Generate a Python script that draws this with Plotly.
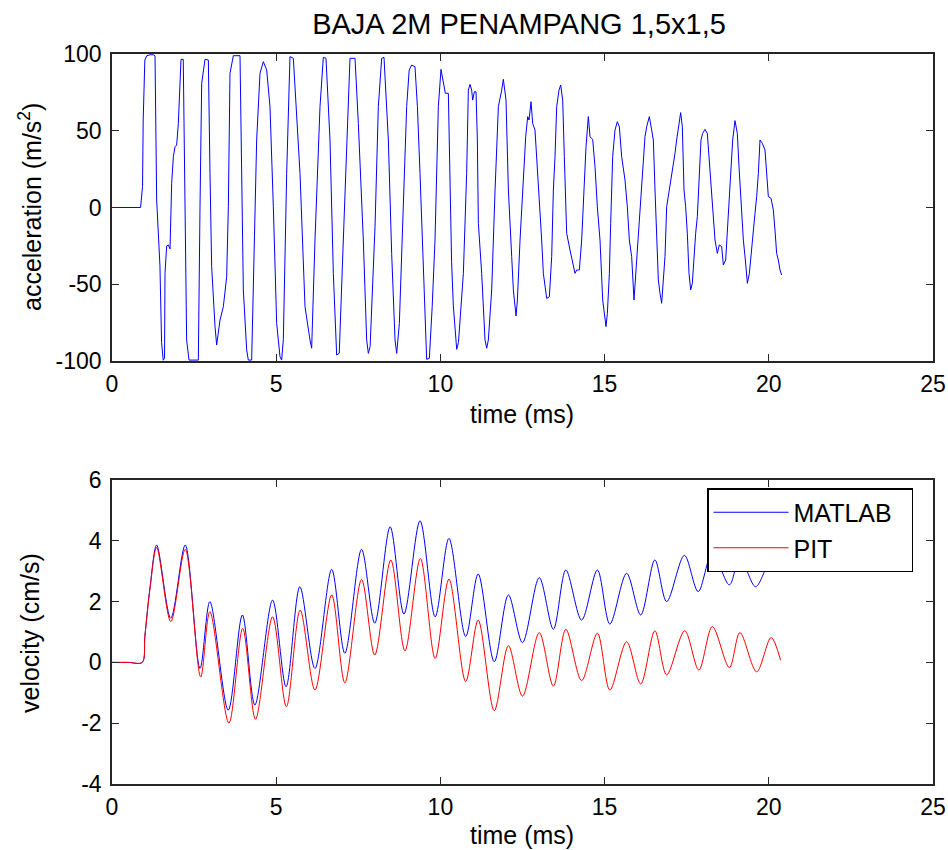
import plotly.graph_objects as go
from plotly.subplots import make_subplots

# Acceleration record (time in ms, acceleration in m/s^2)
acc_time = [
    0.0, 0.87, 0.93, 0.95, 1.00, 1.06, 1.16, 1.26, 1.31, 1.36, 1.46, 1.51, 1.56, 1.60,
    1.614, 1.665, 1.716, 1.767, 1.817, 1.868, 1.92, 1.969, 2.02, 2.071, 2.101, 2.17,
    2.223, 2.273, 2.345, 2.629, 2.680, 2.731, 2.832, 2.934, 2.984, 3.035, 3.137, 3.187,
    3.289, 3.39, 3.492, 3.543, 3.593, 3.695, 3.898, 3.999, 4.101, 4.151, 4.253, 4.354,
    4.405, 4.507, 4.608, 4.71, 4.811, 4.913, 5.014, 5.116, 5.166, 5.217, 5.319, 5.42,
    5.522, 5.725, 5.877, 6.029, 6.08, 6.181, 6.334, 6.435, 6.516, 6.638, 6.74, 6.841,
    6.92, 7.044, 7.146, 7.247, 7.4, 7.501, 7.653, 7.755, 7.806, 7.86, 8.009, 8.11,
    8.212, 8.283, 8.415, 8.516, 8.618, 8.669, 8.75, 8.872, 8.973, 9.05, 9.125, 9.227,
    9.30, 9.379, 9.481, 9.582, 9.663, 9.75, 9.836, 9.937, 10.018, 10.09, 10.15, 10.242,
    10.293, 10.34, 10.394, 10.496, 10.55, 10.648, 10.699, 10.8, 10.851, 10.902, 10.952,
    10.983, 11.034, 11.085, 11.125, 11.156, 11.257, 11.359, 11.41, 11.46, 11.562, 11.664,
    11.765, 11.867, 11.917, 11.998, 12.07, 12.171, 12.222, 12.303, 12.344, 12.425, 12.527,
    12.597, 12.658, 12.699, 12.76, 12.81, 12.881, 12.932, 13.034, 13.084, 13.135, 13.237,
    13.318, 13.389, 13.44, 13.49, 13.541, 13.612, 13.663, 13.724, 13.774, 13.845, 13.947,
    14.028, 14.099, 14.15, 14.231, 14.302, 14.373, 14.434, 14.505, 14.556, 14.637, 14.708,
    14.779, 14.86, 14.942, 14.992, 15.043, 15.084, 15.145, 15.185, 15.246, 15.317, 15.388,
    15.449, 15.52, 15.621, 15.692, 15.753, 15.824, 15.895, 15.946, 16.027, 16.098, 16.179,
    16.23, 16.281, 16.362, 16.433, 16.484, 16.535, 16.585, 16.636, 16.687, 16.738, 16.788,
    16.839, 16.89, 16.941, 16.991, 17.042, 17.093, 17.144, 17.194, 17.245, 17.316, 17.367,
    17.418, 17.468, 17.519, 17.57, 17.621, 17.671, 17.722, 17.773, 17.824, 17.885, 17.935,
    17.986, 18.057, 18.128, 18.179, 18.24, 18.291, 18.362, 18.433, 18.494, 18.565, 18.616,
    18.687, 18.738, 18.799, 18.849, 18.9, 18.971, 19.042, 19.093, 19.154, 19.225, 19.286,
    19.347, 19.408, 19.458, 19.529, 19.58, 19.631, 19.682, 19.732, 19.803, 19.884, 19.935,
    19.986, 20.067, 20.138, 20.188, 20.239, 20.29, 20.341, 20.391,
]
acc_value = [
    0.0, 0.0, 13.6, 57.0, 96.0, 98.9, 99.5, 99.5, 98.9, 4.9, -38.0, -88.0, -99.5, -98.0,
    -42.9, -25.0, -24.4, -27.0, 15.7, 33.1, 39.6, 40.7, 54.8, 89.6, 96.5, 96.5,
    0.5, -86.3, -99.4, -99.4, 0.5, 80.9, 96.5, 96.1, 22.3, -38.5, -77.6, -89.6,
    -73.3, -64.6, -45.1, 0.5, 87.4, 98.9, 98.9, -53.7, -92.8, -99.4, -99.4, 0.5,
    44.0, 87.4, 95.0, 89.6, 65.7, 0.5, -75.5, -97.2, -99.4, -86.0, 22.3, 98.3,
    97.2, 22.3, -64.6, -86.3, -91.7, -21.2, 65.7, 97.8, 97.2, 44.0, -42.9, -96.1,
    -95.0, -21.2, 44.0, 97.2, 97.2, 54.8, -21.2, -86.3, -95.0, -90.6, -12.5, 65.7,
    97.2, 97.8, 44.0, -29.9, -86.3, -95.0, -75.5, 0.5, 65.7, 89.6, 92.8, 91.7,
    65.7, 22.3, -42.9, -98.9, -98.3, -64.6, -21.2, 65.7, 90.0, 80.9, 74.4, 74.4,
    10.0, -35.0, -64.0, -92.4, -88.0, -60.3, -42.9, 22.3, 76.5, 80.2, 76.5,
    70.0, 75.4, 75.4, 44.0, -10.3, -42.9, -86.3, -91.7, -86.3, -53.7, 11.4,
    65.7, 76.5, 83.5, 70.0, 11.4, -32.0, -53.7, -70.7, -60.3, -21.2, 15.7,
    46.1, 59.2, 57.0, 68.9, 54.8, 50.5, 33.1, 0.5, -21.2, -42.9, -59.2,
    -58.2, -32.0, 11.4, 33.1, 65.7, 76.5, 79.8, 70.0, 33.1, -16.8, -27.7,
    -36.4, -42.9, -40.7, -40.7, -21.2, 11.4, 39.6, 59.2, 46.1, 44.4, 26.6,
    0.5, -21.2, -60.3, -71.1, -77.6, -69.0, -42.9, -10.3, 33.1, 50.5, 55.9,
    52.6, 33.1, 17.9, 0.5, -21.2, -32.0, -60.3, -42.9, -21.2, 7.1, 33.1,
    46.1, 52.6, 59.2, 50.5, 44.0, 11.4, -21.2, -47.2, -55.9, -62.4, -47.2,
    -32.0, 0.5, 7.1, 13.6, 22.3, 26.6, 35.3, 44.0, 52.6, 61.8, 52.6,
    11.4, 0.5, -16.8, -42.9, -53.7, -49.4, -32.0, -16.8, -6.0, 22.3, 44.0,
    48.3, 50.9, 48.3, 33.1, 15.7, -3.8, -21.2, -29.9, -24.4, -25.5, -37.5,
    -34.2, -16.8, 4.9, 26.6, 44.0, 56.6, 48.3, 26.6, 0.5, -21.2, -34.2,
    -49.4, -42.9, -29.9, -14.7, -3.8, 7.1, 22.3, 44.0, 41.8, 37.5, 22.3,
    7.1, 6.0, -1.6, -14.7, -29.9, -34.2, -40.7, -44.0,
]

# Velocity records (time in ms, velocity in cm/s)
matlab_time = [
    0.0, 0.5, 0.92, 1.0, 1.16, 1.36, 1.79, 2.23, 2.68, 2.98, 3.54, 3.97, 4.35, 4.89, 5.3,
    5.72, 6.18, 6.69, 7.09, 7.6, 8.0, 8.47, 8.89, 9.38, 9.84, 10.26, 10.77, 11.15,
    11.64, 12.07, 12.5, 13.01, 13.44, 13.82, 14.3, 14.78, 15.16, 15.67, 16.1, 16.53,
    16.89, 17.43, 17.85, 18.28, 18.8, 19.12, 19.6, 20.07, 20.36,
]
matlab_velocity = [
    0.0, 0.0, 0.0, 0.85, 2.49, 3.86, 1.45, 3.86, -0.2, 2.0, -1.57, 1.56, -1.4, 2.05, -0.8,
    2.49, -0.2, 3.06, 0.3, 3.72, 1.29, 4.46, 1.59, 4.66, 1.5, 4.08, 0.85, 2.91,
    0.02, 2.22, 0.65, 2.79, 1.09, 3.04, 1.39, 3.04, 1.26, 2.93, 1.56, 3.37,
    2.0, 3.52, 2.33, 3.6, 2.55, 3.45, 2.49, 3.35, 3.0,
]
pit_time = [
    0.0, 0.5, 0.92, 1.0, 1.16, 1.36, 1.79, 2.23, 2.7, 2.98, 3.56, 3.98, 4.37, 4.89, 5.31,
    5.73, 6.18, 6.69, 7.09, 7.6, 8.0, 8.49, 8.92, 9.39, 9.84, 10.26, 10.77, 11.15,
    11.64, 12.07, 12.5, 13.01, 13.44, 13.82, 14.3, 14.78, 15.16, 15.67, 16.1, 16.53,
    16.89, 17.44, 17.87, 18.28, 18.8, 19.12, 19.63, 20.07, 20.36,
]
pit_velocity = [
    0.0, 0.0, 0.0, 0.85, 2.45, 3.78, 1.34, 3.72, -0.48, 1.67, -2.0, 1.12, -1.87, 1.5, -1.46,
    1.72, -0.91, 2.22, -0.67, 2.73, 0.24, 3.37, 0.38, 3.42, 0.13, 2.74, -0.63, 1.39,
    -1.59, 0.55, -1.11, 0.98, -0.78, 1.09, -0.6, 0.96, -0.91, 0.68, -0.71, 1.04,
    -0.41, 1.04, -0.25, 1.18, -0.17, 0.98, -0.31, 0.82, 0.07,
]

title_text = "BAJA 2M PENAMPANG 1,5x1,5"
x_ticks = [0, 5, 10, 15, 20, 25]
acc_ticks = [-100, -50, 0, 50, 100]
vel_ticks = [-4, -2, 0, 2, 4, 6]

FONT = "Liberation Sans, Arial, Helvetica, sans-serif"
AXIS_COLOR = "#262626"
TICK_SIZE = 23
LABEL_SIZE = 25
PAD = "\u00a0\u00a0"  # right padding inside the legend box


def tick_labels(values):
    # plain hyphen-minus for negative numbers
    return [str(v) for v in values]


fig = make_subplots(rows=2, cols=1, vertical_spacing=0.14)

fig.add_trace(go.Scatter(x=acc_time, y=acc_value, mode="lines",
                         line=dict(color="#0000ff", width=1), showlegend=False),
              row=1, col=1)
fig.add_trace(go.Scatter(x=matlab_time, y=matlab_velocity, mode="lines", name="MATLAB" + PAD,
                         line=dict(color="#0000ff", width=1, shape="spline", smoothing=0.9)),
              row=2, col=1)
fig.add_trace(go.Scatter(x=pit_time, y=pit_velocity, mode="lines", name="PIT" + PAD,
                         line=dict(color="#ff0000", width=1, shape="spline", smoothing=0.9)),
              row=2, col=1)

axis_common = dict(
    showgrid=False, zeroline=False, showline=True, mirror="ticks",
    linecolor=AXIS_COLOR, linewidth=1.5, ticks="inside", ticklen=7,
    tickcolor=AXIS_COLOR, tickwidth=1, automargin=False,
    tickfont=dict(family=FONT, size=TICK_SIZE, color="#000000"),
)

x_dom = [112 / 948, 933 / 948]
fig.update_xaxes(**axis_common, range=[0, 25], tickvals=x_ticks,
                 ticktext=tick_labels(x_ticks), domain=x_dom, ticklabelstandoff=2)
fig.update_yaxes(**axis_common, ticklabelstandoff=4)
fig.update_yaxes(range=[-100, 100], tickvals=acc_ticks, ticktext=tick_labels(acc_ticks),
                 domain=[1 - 361 / 850, 1 - 54 / 850], row=1, col=1)
fig.update_yaxes(range=[-4, 6], tickvals=vel_ticks, ticktext=tick_labels(vel_ticks),
                 domain=[1 - 784 / 850, 1 - 480 / 850], row=2, col=1)

label_font = dict(family=FONT, size=LABEL_SIZE, color="#000000")
axis_titles = [
    dict(text="time (ms)", x=522 / 948, y=1 - 414 / 850, textangle=0),
    dict(text="time (ms)", x=522 / 948, y=1 - 835 / 850, textangle=0),
    dict(text="acceleration (m/s<sup>2</sup>)", x=30 / 948, y=1 - 207 / 850, textangle=-90),
    dict(text="velocity (cm/s)", x=30 / 948, y=1 - 633 / 850, textangle=-90),
]
for t in axis_titles:
    fig.add_annotation(text=t["text"], x=t["x"], y=t["y"], xref="paper", yref="paper",
                       xanchor="center", yanchor="middle", textangle=t["textangle"],
                       showarrow=False, font=label_font)

fig.update_layout(
    width=948, height=850,
    margin=dict(l=0, r=0, t=0, b=0),
    paper_bgcolor="#ffffff", plot_bgcolor="#ffffff",
    title=dict(text=title_text, x=519 / 948, xanchor="center",
               y=1 - 24 / 850, yanchor="middle",
               font=dict(family=FONT, size=29, color="#000000")),
    legend=dict(x=913 / 948, xanchor="right", y=1 - 488 / 850, yanchor="top",
                bgcolor="#ffffff", bordercolor="#000000", borderwidth=1.5,
                font=dict(family=FONT, size=25, color="#000000"),
                itemwidth=75, tracegroupgap=0),
)

fig.write_html("out.html")
